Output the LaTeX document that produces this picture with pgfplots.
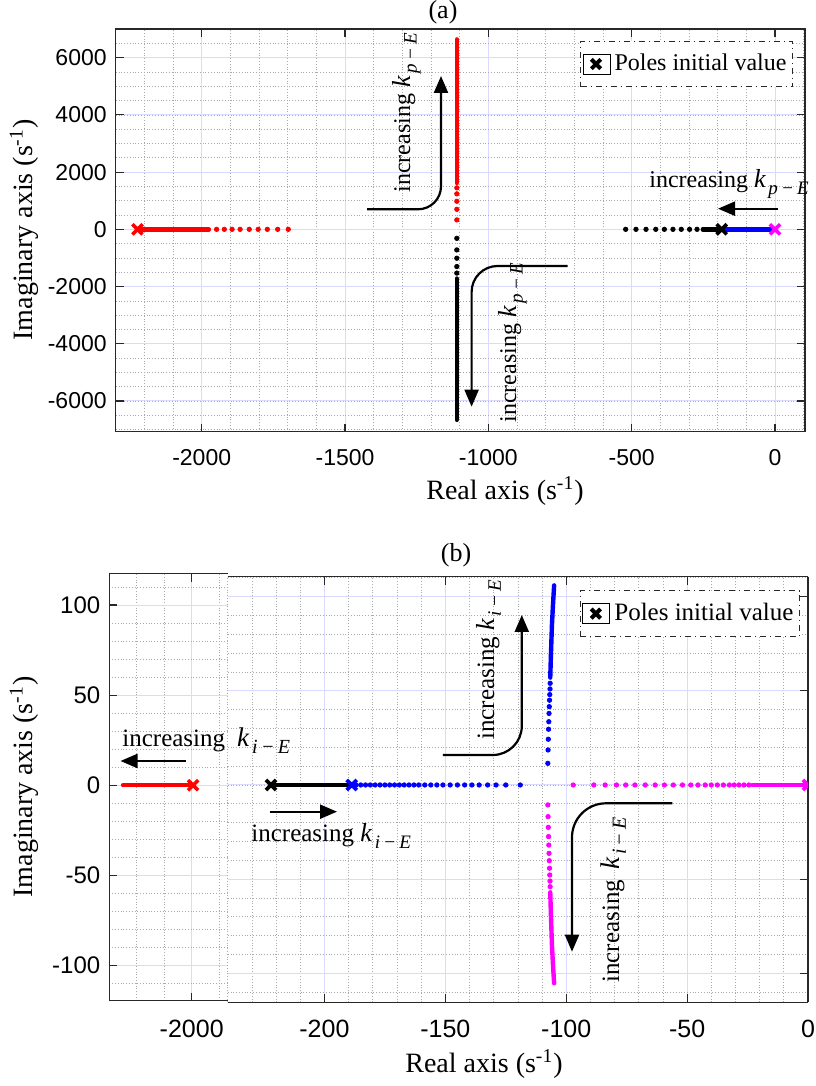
\documentclass[border=0pt]{standalone}
\usepackage{fontspec}
\setmainfont{Liberation Serif}
\newfontfamily\ticksf{Liberation Sans}
\usepackage{pgfplots}
\pgfplotsset{compat=1.18}
\usetikzlibrary{arrows.meta}

\definecolor{mgrid}{RGB}{218,218,255}
\definecolor{mingrid}{RGB}{170,170,170}
\definecolor{axcol}{RGB}{40,40,40}
\definecolor{mred}{RGB}{255,0,0}
\definecolor{mblue}{RGB}{0,0,255}
\definecolor{mmag}{RGB}{255,0,255}

\newcommand{\inc}[1]{increasing {\fontsize{13}{14}\selectfont\itshape k}\kern0.12em\raisebox{-0.6ex}{\fontsize{9.5}{10}\selectfont\itshape #1\,−\,E}}

\pgfplotsset{
  rl/.style={
    scale only axis, anchor=south west,
    axis line style={axcol, line width=0.7pt},
    tick style={axcol, line width=0.6pt},
    major tick length=4pt, minor tick length=0pt, tick align=inside,
    grid=both,
    major grid style={mgrid, line width=0.5pt},
    minor grid style={mingrid, line width=0.35pt, dash pattern=on 0.5pt off 0.9pt},
    legend image code/.code={\path (-4.5pt,-5pt) rectangle (9pt,5pt); \draw[#1] plot coordinates {(2pt,0pt)};},
    legend style={draw=axcol, line width=0.5pt, dash dot, fill=white,
      font=\fontsize{12}{14}\selectfont, inner xsep=1pt, inner ysep=4.5pt,
      anchor=north east},
  },
  dots/.style={only marks, mark=*, mark size=1.1pt, forget plot},
  dense/.style={no marks, line width=2.2pt, line cap=round, forget plot},
  pole/.style={only marks, mark=x, mark size=3.6pt, mark options={solid, line width=1.8pt}, forget plot},
  legpole/.style={only marks, mark=x, mark size=3.3pt, mark options={solid, black, line width=2pt}},
}

\begin{document}
\begin{tikzpicture}
\useasboundingbox (0,0) rectangle (407.5pt,543pt);

% ---------- (a) ----------
\begin{axis}[rl, at={(57.85pt,327.15pt)}, width=344.7pt, height=201.35pt,
  xmin=-2300, xmax=105, ymin=-7073, ymax=7003,
  xtick={-2000,-1500,-1000,-500,0}, xticklabels={-2000,-1500,-1000,-500,0},
  ytick={-6000,-4000,-2000,0,2000,4000,6000},
  yticklabels={-6000,-4000,-2000,0,2000,4000,6000},
  minor xtick={-2300,-2200,...,100}, minor ytick={-7000,-6500,...,7000},
  xticklabel style={font=\ticksf\fontsize{11.5}{13}\selectfont, yshift=-5.3pt},
  yticklabel style={font=\ticksf\fontsize{11.5}{13}\selectfont, xshift=-1pt},
  legend style={at={(0.9825,0.9709)}},
]
\addlegendimage{legpole}
\addlegendentry{Poles initial value}
% red branch
\addplot[dense, mred] coordinates {(-2224,0) (-1975,0)};
\addplot[dots, mred] coordinates {(-1948,0) (-1921,0) (-1894,0) (-1866,0) (-1834,0) (-1803,0) (-1771,0) (-1735,0) (-1698,0)};
\addplot[dots, mred] coordinates {(-1110,330) (-1110,700) (-1110,980) (-1110,1240) (-1110,1450)};
\addplot[dense, mred] coordinates {(-1110,1620) (-1110,6640)};
% black branch
\addplot[dots, black] coordinates {(-1110,-315) (-1110,-720) (-1110,-1010) (-1110,-1300) (-1110,-1530)};
\addplot[dense, black] coordinates {(-1110,-1720) (-1110,-6660)};
\addplot[dots, black] coordinates {(-521,0) (-485,0) (-450,0) (-416,0) (-386,0) (-356,0) (-327,0) (-298,0) (-272,0)};
\addplot[dense, black] coordinates {(-252,0) (-186,0)};
% blue branch
\addplot[dense, mblue, line cap=butt] coordinates {(-186,0) (0,0)};
% initial poles
\addplot[pole, mred] coordinates {(-2224,0)};
\addplot[pole, black] coordinates {(-186,0)};
\addplot[pole, mmag] coordinates {(0,0)};
\end{axis}

% ---------- (b) left part ----------
\begin{axis}[rl, at={(54.65pt,42.65pt)}, width=59.2pt, height=213.5pt,
  axis x line*=box, axis y line*=left,
  every outer x axis line/.append style={-}, every outer y axis line/.append style={-},
  xmin=-2300, xmax=-1869, ymin=-119.6, ymax=117.4,
  xtick={-2000}, xticklabels={-2000},
  ytick={-100,-50,0,50,100}, yticklabels={-100,-50,0,50,100},
  minor xtick={-2200,-2100,-1900}, minor ytick={-110,-100,...,110},
  xticklabel style={font=\ticksf\fontsize{12.5}{14}\selectfont, yshift=-6.2pt},
  yticklabel style={font=\ticksf\fontsize{12}{14}\selectfont, xshift=-1pt},
]
\addplot[dense, mred] coordinates {(-2250,0) (-1995,0)};
\addplot[pole, mred] coordinates {(-1995,0)};
\end{axis}

% ---------- (b) right part ----------
\begin{axis}[rl, at={(113.85pt,41.85pt)}, width=290.15pt, height=212.8pt,
  axis x line*=box, axis y line*=right,
  every outer x axis line/.append style={-}, every outer y axis line/.append style={-},
  xmin=-240, xmax=0, ymin=-115.4, ymax=110.6,
  xtick={-200,-150,-100,-50,0}, xticklabels={-200,-150,-100,-50,0},
  ytick={-100,-50,0,50,100}, yticklabel={\relax},
  yticklabel style={inner sep=0pt, anchor=east, xshift=-3pt},
  minor xtick={-240,-230,...,0}, minor ytick={-110,-100,...,110},
  xticklabel style={font=\ticksf\fontsize{12.5}{14}\selectfont, yshift=-5.5pt},
  clip marker paths=true,
  legend style={at={(0.9862,0.9687)}, font=\fontsize{12.5}{14}\selectfont},
]
\addlegendimage{legpole}
\addlegendentry{Poles initial value}
% black
\addplot[dense, black] coordinates {(-222.1,0) (-188.7,0)};
% blue
\addplot[dots, mblue] coordinates {(-187,0) (-185,0) (-183,0) (-181,0) (-179,0) (-177,0) (-175,0) (-173,0) (-171,0) (-169,0) (-167,0) (-165,0) (-163,0) (-161,0) (-158.5,0) (-156,0) (-153.5,0) (-151,0) (-148,0) (-145,0) (-142,0) (-139,0) (-136,0) (-132.5,0) (-129,0) (-125,0) (-119,0)};
\addplot[dots, mblue] coordinates {(-107.6,11.5) (-107.5,18.6) (-107.4,24.3) (-107.3,29.6) (-107.2,33.6) (-107.1,38) (-107.0,41.6) (-106.9,45) (-106.8,48) (-106.7,51) (-106.65,54)};
\addplot[dense, mblue] coordinates {(-106.6,57) (-106.3,70) (-105.9,85) (-105.5,95) (-105.0,106)};
% magenta
\addplot[dots, mmag] coordinates {(-97.1,0) (-88.6,0) (-83.9,0) (-79.2,0) (-75.4,0) (-71.6,0) (-67.3,0) (-63.2,0) (-59.4,0) (-55.7,0) (-51.9,0) (-48.5,0) (-45.5,0) (-42.5,0) (-40,0) (-37.5,0) (-35,0) (-32.5,0) (-30.5,0) (-28.5,0) (-26.5,0) (-24.5,0)};
\addplot[dense, mmag] coordinates {(-23,0) (0,0)};
\addplot[dots, mmag] coordinates {(-107.6,-10.6) (-107.5,-16.8) (-107.4,-22.5) (-107.3,-27.4) (-107.2,-31.9) (-107.1,-36.3) (-107.0,-40.2) (-106.9,-44.2) (-106.8,-47.8) (-106.7,-51) (-106.65,-54)};
\addplot[dense, mmag] coordinates {(-106.6,-57) (-106.3,-70) (-105.9,-85) (-105.5,-95) (-105.0,-105.3)};
% initial poles
\addplot[pole, black] coordinates {(-222.1,0)};
\addplot[pole, mblue] coordinates {(-188.7,0)};
\addplot[pole, mmag] coordinates {(0,0)};
\end{axis}

% ---------- annotations (pixel coordinates) ----------
\begin{scope}[x=0.5pt, y=-0.5pt, yshift=543pt,
  arr/.style={line width=1.1pt, -{Triangle[length=8.5pt,width=7pt]}},
  lab/.style={font=\fontsize{14}{16}\selectfont, inner sep=0},
  ann/.style={font=\fontsize{12}{14}\selectfont, inner sep=0}]
% titles and axis labels
\node[anchor=base, font=\fontsize{13}{15}\selectfont, inner sep=0] at (443,19) {(a)};
\node[anchor=base, font=\fontsize{13}{15}\selectfont, inner sep=0] at (456,562) {(b)};
\node[lab, anchor=base] at (505,500) {Real axis (s\textsuperscript{-1})};
\node[lab, anchor=base] at (484,1073) {Real axis (s\textsuperscript{-1})};
\node[lab, anchor=base, rotate=90] at (33,230) {Imaginary axis (s\textsuperscript{-1})};
\node[lab, anchor=base, rotate=90] at (33,787) {Imaginary axis (s\textsuperscript{-1})};
% (a) arrows
\draw[arr, rounded corners=11.5pt] (367,209.3) -- (441,209.3) -- (441,76);
\draw[arr, rounded corners=13pt] (567.6,266) -- (471.6,266) -- (471.6,406.7);
\draw[arr] (778.3,208.7) -- (718,208.7);
\node[ann, rotate=90, anchor=base west] at (410,193) {\inc{p}};
\node[ann, rotate=90, anchor=base west] at (516,423) {\inc{p}};
\node[ann, anchor=base west] at (649,188) {\inc{p}};
% (b) arrows
\draw[arr, rounded corners=14.5pt] (442.9,755) -- (521.8,755) -- (521.8,615);
\draw[arr, rounded corners=17pt] (672.3,803.3) -- (572,803.3) -- (572,951.7);
\draw[arr] (185.7,761) -- (120.5,761);
\draw[arr] (269.6,811.7) -- (337,811.7);
\node[ann, font=\fontsize{12.5}{14}\selectfont, rotate=90, anchor=base west] at (494,740) {\inc{i}};
\node[ann, font=\fontsize{12.5}{14}\selectfont, rotate=90, anchor=base west] at (619,983) {increasing\hspace{5pt}{\fontsize{13.5}{14}\selectfont\itshape k}\kern0.12em\raisebox{-0.6ex}{\fontsize{10}{10}\selectfont\itshape i\,−\,E}};
\node[ann, font=\fontsize{12.5}{14}\selectfont, anchor=base west] at (122,747) {increasing\hspace{6pt}{\fontsize{13.5}{14}\selectfont\itshape k}\kern0.12em\raisebox{-0.6ex}{\fontsize{10}{10}\selectfont\itshape i\,−\,E}};
\node[ann, font=\fontsize{12.5}{14}\selectfont, anchor=base west] at (251,842) {\inc{i}};
\end{scope}
\end{tikzpicture}
\end{document}
